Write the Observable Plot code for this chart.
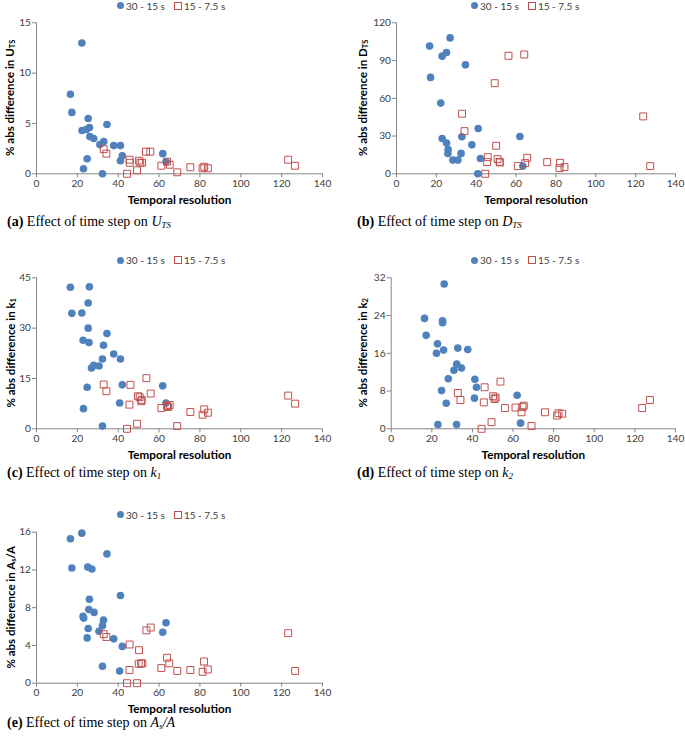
<!DOCTYPE html>
<html>
<head>
<meta charset="utf-8">
<script src="https://cdn.jsdelivr.net/npm/d3@7"></script>
<script src="https://cdn.jsdelivr.net/npm/@observablehq/plot@0.6"></script>
<style>
  html, body { margin: 0; padding: 0; background: #fff; }
  #root { position: relative; width: 685px; height: 739px; overflow: hidden; background: #fff; }
  .abs { position: absolute; }
  .legend { font-family: Lato, "Open Sans", sans-serif; font-size: 10px; color: #404040; display: flex; align-items: center; white-space: nowrap; line-height: 1; }
  .legend .c { display: inline-block; width: 7px; height: 7px; border-radius: 50%; background: #4F81BD; margin-right: 2px; }
  .legend .s { display: inline-block; width: 6px; height: 6px; border: 1px solid #C0504D; margin-left: 9px; margin-right: 2px; }
  .cap { font-family: "Liberation Serif", "Times New Roman", serif; font-size: 14px; color: #000; white-space: nowrap; line-height: 1; }
  .cap sub { font-size: 9px; vertical-align: -2px; }
</style>
</head>
<body>
<div id="root"></div>
<script>
// ---- data ----
const seriesNames = ["30 - 15 s", "15 - 7.5 s"];
const xTicks = [0, 20, 40, 60, 80, 100, 120, 140];

const utsTicks = [0, 5, 10, 15];
const utsBlue = [[22.2,13.0],[16.6,7.9],[17.3,6.1],[25.3,5.5],[22.3,4.3],[25.9,4.6],[24.4,4.4],[34.5,4.9],[26.1,3.7],[28.0,3.5],[32.9,3.2],[31.0,2.9],[37.8,2.8],[41.1,2.8],[42.0,1.8],[41.1,1.3],[24.8,1.5],[23.0,0.5],[32.3,0.0],[61.8,2.0],[63.4,1.2]];
const utsRed = [[32.9,2.45],[34.2,2.0],[44.3,0.0],[45.6,1.4],[45.6,1.1],[49.2,0.35],[50.2,1.3],[50.8,1.1],[51.7,1.1],[53.6,2.2],[55.7,2.2],[61.1,0.8],[63.9,1.2],[65.2,0.9],[68.9,0.15],[75.3,0.65],[81.3,0.55],[82.1,0.7],[83.9,0.55],[123.2,1.4],[126.5,0.8]];

const dtsTicks = [0, 30, 60, 90, 120];
const dtsBlue = [[16.6,101.5],[17.1,76.6],[26.9,108],[22.9,93.5],[25.1,96.4],[34.6,86.6],[22.2,56.2],[22.9,28.1],[25.1,24.4],[25.9,19.3],[25.8,16.2],[28.3,10.9],[30.8,10.9],[32.4,16.2],[32.8,29.4],[37.8,23],[41,36],[42.1,12.2],[40.8,0],[61.9,29.7],[63.4,6.1]];
const dtsRed = [[32.9,47.7],[34.1,33.9],[44.5,0],[45.8,13.2],[45.5,9.3],[49.3,72],[50.0,22.3],[50.7,11.7],[51.7,9.5],[51.9,9],[56.2,93.8],[60.9,6.1],[64.1,94.8],[64.6,8.5],[65.6,12.7],[75.6,9.3],[82,8.7],[81.8,4.5],[84.3,5.3],[123.8,45.6],[127.3,6.1]];

const k1Ticks = [0, 15, 30, 45];
const k1Blue = [[16.6,42.2],[25.9,42.3],[25.3,37.5],[17.3,34.4],[22.2,34.5],[25.3,30],[34.5,28.4],[22.8,26.4],[25.7,25.7],[32.8,24.9],[37.8,22.3],[32.3,20.8],[41.1,20.8],[26.9,18.1],[28.0,18.9],[30.6,18.7],[42.0,13.1],[61.8,12.8],[24.8,12.4],[40.7,7.7],[63.4,7.7],[23.0,6.0],[32.3,0.8]];
const k1Red = [[32.9,13.2],[34.2,11.2],[44.3,0],[46.0,13.1],[45.5,7.2],[49.2,1.5],[49.7,9.7],[50.5,9.4],[51.5,8.6],[51.3,8.2],[53.8,15.1],[55.9,10.5],[61.1,6.2],[63.9,6.8],[64.4,6.5],[65.2,7.1],[68.9,0.8],[75.3,5.0],[81.3,4.2],[82.1,5.8],[83.9,4.8],[123.2,9.9],[126.6,7.5]];

const k2Ticks = [0, 8, 16, 24, 32];
const k2Blue = [[26.1,30.7],[16.4,23.4],[25.3,22.9],[25.3,22.5],[17.2,19.8],[22.8,18.0],[22.3,16.0],[25.8,16.7],[32.8,17.1],[37.7,16.8],[32.3,13.7],[34.6,12.9],[30.9,12.4],[28.1,10.6],[41.2,10.5],[42.0,8.8],[24.8,8.1],[62.0,7.1],[41.0,6.5],[27.1,5.4],[23.0,0.9],[32.2,0.9],[63.7,1.2]];
const k2Red = [[32.8,7.6],[34.1,6.1],[44.5,0],[46.0,8.8],[45.6,5.6],[49.4,1.4],[50.2,6.9],[50.9,6.3],[51.4,6.6],[53.8,10.0],[56.0,4.4],[61.2,4.5],[64.2,3.5],[64.7,4.6],[65.3,4.9],[69.1,0.6],[75.7,3.5],[81.7,2.8],[82.4,3.3],[84.2,3.2],[123.6,4.4],[127.4,6.1]];

const asaTicks = [0, 4, 8, 12, 16];
const asaBlue = [[22.2,15.9],[16.6,15.3],[17.3,12.2],[25.1,12.3],[27.1,12.1],[34.5,13.7],[41.1,9.3],[25.9,8.9],[25.6,7.8],[28.2,7.5],[22.8,7.1],[23.1,6.9],[32.8,6.7],[32.3,6.1],[63.4,6.4],[25.3,5.8],[30.6,5.5],[61.8,5.4],[24.8,4.8],[37.8,4.7],[42.0,3.9],[32.3,1.8],[40.7,1.3]];
const asaRed = [[32.9,5.2],[34.2,4.9],[44.3,0],[45.6,4.1],[45.5,1.4],[49.2,0],[50.2,3.5],[50.0,2.05],[51.2,2.1],[51.8,2.1],[53.8,5.6],[55.9,5.9],[61.1,1.6],[63.9,2.7],[65.0,2.1],[68.9,1.3],[75.3,1.4],[81.3,1.2],[82.0,2.3],[83.9,1.45],[123.2,5.3],[126.6,1.3]];

// ---- layout ----
const root = document.getElementById("root");
const AX = "#868686";

function panel(cfg) {
  const {left, top, width, height, ml, mr, mt, mb, ticks, blue, red, yMain, ySub, yTail, yLabelX, legendX, legendY, capX, capY, capHTML} = cfg;
  const yMax = ticks[ticks.length - 1];
  const plot = Plot.plot({
    width, height,
    marginLeft: ml, marginRight: mr, marginTop: mt, marginBottom: mb,
    style: {fontFamily: "Lato, 'Open Sans', sans-serif", fontSize: "10.2px", color: "#404040", background: "transparent", overflow: "visible"},
    x: {domain: [0, 140]},
    y: {domain: [0, yMax]},
    marks: [
      Plot.axisX({ticks: xTicks, tickSize: 4, tickPadding: 2, stroke: AX, fill: "#404040", label: null}),
      Plot.axisY({ticks: ticks, tickSize: 4, tickPadding: 1.5, stroke: AX, fill: "#404040", label: null}),
      Plot.ruleY([0], {stroke: AX, strokeWidth: 1}),
      Plot.ruleX([0], {stroke: AX, strokeWidth: 1}),
      Plot.text(["Temporal resolution"], {frameAnchor: "bottom", dy: 30, fontWeight: "bold", fontSize: 11.7, fill: "#000"}),
      Plot.dot(blue, {x: d => d[0], y: d => d[1], r: 3.8, fill: "#4F81BD", stroke: "none"}),
      Plot.dot(red, {x: d => d[0], y: d => d[1], symbol: "square", r: 3.9, fill: "none", stroke: "#C0504D", strokeWidth: 1})
    ]
  });
  plot.style.position = "absolute";
  plot.style.left = left + "px";
  plot.style.top = top + "px";
  // y label with subscript
  const cy = mt + (height - mt - mb) / 2;
  const t = d3.select(plot).append("text")
    .attr("transform", `translate(${yLabelX - left},${cy}) rotate(-90)`)
    .attr("text-anchor", "middle")
    .attr("dominant-baseline", "central")
    .attr("fill", "#000")
    .style("font-family", "Lato, 'Open Sans', sans-serif")
    .style("font-weight", "bold")
    .style("font-size", "11.5px");
  t.append("tspan").text("% abs difference in " + yMain);
  t.append("tspan").attr("dy", 3).style("font-size", "7.5px").text(ySub);
  if (yTail) t.append("tspan").attr("dy", -3).text(yTail);
  root.appendChild(plot);

  const lg = document.createElement("div");
  lg.className = "abs legend";
  lg.style.left = legendX + "px";
  lg.style.top = (legendY - 5) + "px";
  lg.innerHTML = `<span class="c"></span><span>${seriesNames[0]}</span><span class="s"></span><span>${seriesNames[1]}</span>`;
  root.appendChild(lg);

  const cap = document.createElement("div");
  cap.className = "abs cap";
  cap.style.left = capX + "px";
  cap.style.top = (capY - 7) + "px";
  cap.innerHTML = capHTML;
  root.appendChild(cap);
}

panel({left: 0, top: 12, width: 340, height: 200, ml: 36, mr: 18, mt: 10.3, mb: 38.7,
  ticks: utsTicks, blue: utsBlue, red: utsRed, yMain: "U", ySub: "TS", yTail: "", yLabelX: 9,
  legendX: 117, legendY: 5.5, capX: 7, capY: 222,
  capHTML: `<b>(a)</b> Effect of time step on <i>U<sub>TS</sub></i>`});

panel({left: 340, top: 12, width: 345, height: 200, ml: 56, mr: 10, mt: 10.3, mb: 38.7,
  ticks: dtsTicks, blue: dtsBlue, red: dtsRed, yMain: "D", ySub: "TS", yTail: "", yLabelX: 362,
  legendX: 471, legendY: 5.5, capX: 357, capY: 222,
  capHTML: `<b>(b)</b> Effect of time step on <i>D<sub>TS</sub></i>`});

panel({left: 0, top: 268, width: 340, height: 200, ml: 36, mr: 18, mt: 9.3, mb: 39.7,
  ticks: k1Ticks, blue: k1Blue, red: k1Red, yMain: "k", ySub: "1", yTail: "", yLabelX: 10,
  legendX: 117, legendY: 260, capX: 7, capY: 473,
  capHTML: `<b>(c)</b> Effect of time step on <i>k<sub>1</sub></i>`});

panel({left: 340, top: 268, width: 345, height: 200, ml: 50.7, mr: 10, mt: 9.3, mb: 39.7,
  ticks: k2Ticks, blue: k2Blue, red: k2Red, yMain: "k", ySub: "2", yTail: "", yLabelX: 362,
  legendX: 471, legendY: 260, capX: 357, capY: 473,
  capHTML: `<b>(d)</b> Effect of time step on <i>k<sub>2</sub></i>`});

panel({left: 0, top: 522, width: 340, height: 198, ml: 36, mr: 18, mt: 9.7, mb: 37.3,
  ticks: asaTicks, blue: asaBlue, red: asaRed, yMain: "A", ySub: "s", yTail: "/A", yLabelX: 10,
  legendX: 117, legendY: 514.7, capX: 7, capY: 723,
  capHTML: `<b>(e)</b> Effect of time step on <i>A<sub>s</sub>/A</i>`});
</script>
</body>
</html>
